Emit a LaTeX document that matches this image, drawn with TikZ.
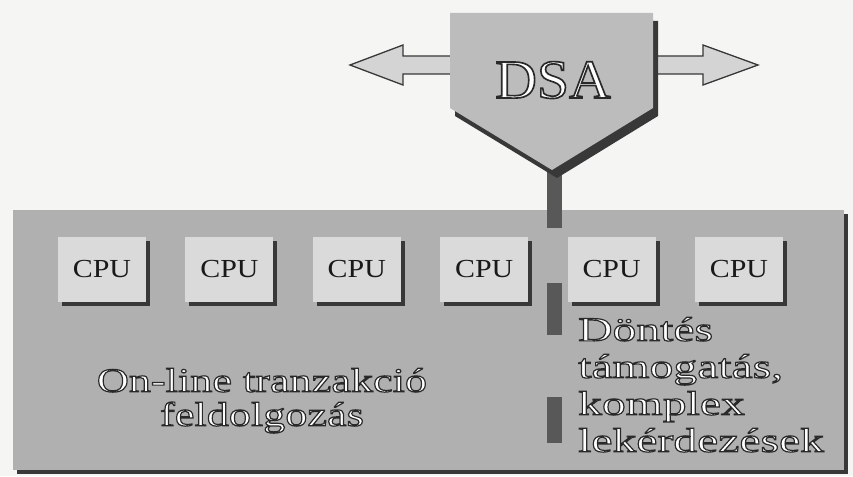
\documentclass[tikz,border=0pt]{standalone}
\usepackage{fontspec}
\setmainfont{Liberation Serif}
\newfontfamily\slidefont[FakeStretch=1.3,FakeBold=3.5]{Liberation Serif}
\newfontfamily\sidefont[FakeStretch=1.4,FakeBold=3.5]{Liberation Serif}
\newfontfamily\dsafont[FakeStretch=1.05,FakeBold=3]{Liberation Serif}
\newfontfamily\cpufont[FakeStretch=1.15]{Liberation Serif}
\usetikzlibrary{positioning,shadows}
\definecolor{papergray}{RGB}{245,245,243}
\definecolor{panelgray}{RGB}{176,176,176}
\definecolor{cpugray}{RGB}{218,218,218}
\definecolor{dsagray}{RGB}{188,188,188}
\definecolor{arrowgray}{RGB}{212,212,212}
\definecolor{rimgray}{RGB}{56,56,56}
\definecolor{stemgray}{RGB}{88,88,88}
\newcommand{\rim}{\special{pdf:literal direct 0.16 0.16 0.16 RG}} % dark edge round white letters
\def\cpugap{39pt}

\begin{document}
\begin{tikzpicture}[x=1pt,y=-1pt,line join=miter,
  boxshadow/.style={drop shadow={shadow xshift=4pt,shadow yshift=-4pt,opacity=1,fill=rimgray}},
  cpubox/.style={fill=cpugray,minimum width=88pt,minimum height=65pt,inner sep=0pt,boxshadow,
    font=\cpufont\fontsize{26}{26}\selectfont,text=black!90},
  slidetext/.style={text=white,inner sep=0pt,font=\slidefont\fontsize{34}{34}\selectfont},
  sidearrow/.style={fill=arrowgray,draw=rimgray,line width=1.3pt}]
  \useasboundingbox (0,0) rectangle (853,476);
  \fill[papergray] (0,0) rectangle (853,476);
  \node[fill=panelgray,minimum width=831pt,minimum height=260pt,inner sep=0pt,boxshadow] (panel) at (428.5,340) {};
  % processors
  \node[cpubox] (cpu1) at (102,269.5) {CPU};
  \foreach \i [remember=\i as \j (initially 1)] in {2,...,6}
    \node[cpubox,right=\cpugap of cpu\j] (cpu\i) {CPU};
  % bus from the DSA into the machine, broken
  \coordinate (stemtop) at (554.5,160);
  \coordinate (stemend) at (554.5,443);
  \draw[stemgray,line width=15pt,dash pattern=on 68pt off 55pt on 52pt off 62pt on 46pt off 300pt] (stemtop) -- (stemend);
  \draw[sidearrow] (452,56) -- (403,56) -- (403,45) -- (350,65) -- (403,85) -- (403,74) -- (452,74);
  \draw[sidearrow] (651,56) -- (703,56) -- (703,45) -- (758,65) -- (703,85) -- (703,74) -- (651,74);
  \path[fill=dsagray,drop shadow={shadow xshift=5pt,shadow yshift=-8pt,opacity=1,fill=rimgray}]
    (450,13) -- (653,13) -- (653,108) -- (552,170) -- (450,108) -- cycle;
  \node[text=white,inner sep=0pt,font=\dsafont\fontsize{55}{55}\selectfont,anchor=base] (dsa) at (553,98)
    {\rim DSA};
  % workloads
  \node[slidetext,anchor=north,align=center] (oltp) at (262,368)
    {\rim On-line tranzakció\\\rim feldolgozás};
  \node[slidetext,font=\sidefont\fontsize{34}{37}\selectfont,anchor=north west,align=left] (dss) at (578,317)
    {\rim Döntés\\\rim támogatás,\\\rim komplex\\\rim lekérdezések};
\end{tikzpicture}
\end{document}
